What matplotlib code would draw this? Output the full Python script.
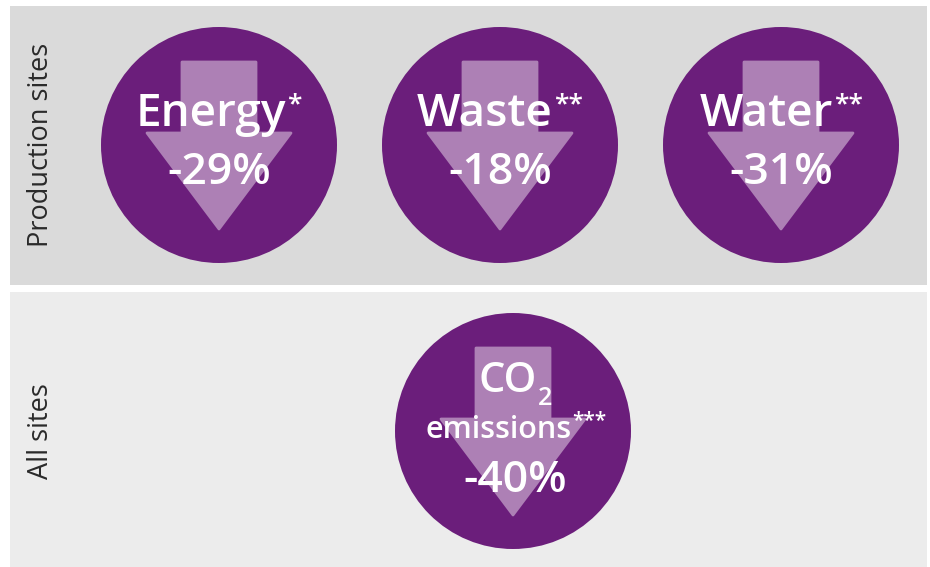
import matplotlib
matplotlib.use("Agg")
import matplotlib.pyplot as plt
from matplotlib.patches import Rectangle, Circle, Polygon

plt.rcParams['font.family'] = ['Open Sans', 'DejaVu Sans']

# data
rows = ['Production sites', 'All sites']
names = ['Energy', 'Waste', 'Water']
stars = ['*', '**', '**']
changes = [-29, -18, -31]
co2_change = -40
co2_stars = '***'

purple = '#6b1e7b'
arrow_col = '#ad80b5'
W, H = 930, 567

fig = plt.figure(figsize=(W / 100, H / 100), dpi=100)
ax = fig.add_axes([0, 0, 1, 1])
ax.set_xlim(0, W)
ax.set_ylim(H, 0)
ax.axis('off')
fig.patch.set_facecolor('white')

ax.add_patch(Rectangle((10, 6), 917, 279, color='#dadada', lw=0))
ax.add_patch(Rectangle((10, 292), 917, 275, color='#ececec', lw=0))

ax.text(41, 145, rows[0], rotation=90, ha='center', va='center',
        fontsize=19.5, color='#2a2a2a')
ax.text(41, 431, rows[1], rotation=90, ha='center', va='center',
        fontsize=19.5, color='#2a2a2a')


def badge(cx, cy):
    ax.add_patch(Circle((cx, cy), 118, color=purple, lw=0))
    pts = [(cx - 37, cy - 83), (cx + 37, cy - 83), (cx + 37, cy - 12),
           (cx + 72, cy - 12), (cx, cy + 84), (cx - 72, cy - 12),
           (cx - 37, cy - 12)]
    ax.add_patch(Polygon(pts, closed=True, fc=arrow_col, ec=arrow_col,
                         lw=2, joinstyle='round'))


fig.canvas.draw()
r = fig.canvas.get_renderer()


def word_with_sup(cx, y, word, sup, size, sup_size, sup_dy, gap=1,
                  weight='semibold'):
    t1 = ax.text(0, y, word, ha='left', va='baseline', fontsize=size,
                 color='white', weight=weight)
    t2 = ax.text(0, y - sup_dy, sup, ha='left', va='baseline',
                 fontsize=sup_size, color='white', weight=weight)
    w1 = t1.get_window_extent(r).width
    w2 = t2.get_window_extent(r).width
    x0 = cx - (w1 + w2 + gap) / 2
    t1.set_x(x0)
    t2.set_x(x0 + w1 + gap)


centers = [219, 500, 781]
for cx, name, st, ch in zip(centers, names, stars, changes):
    badge(cx, 145)
    word_with_sup(cx, 126, name, st, 33, 19, 15)
    ax.text(cx, 184, f'{ch}%', ha='center', va='baseline', fontsize=32,
            color='white', weight='semibold')

badge(513, 431)
# CO2 with subscript
word_with_sup(515, 392, 'CO', '2', 30, 18, -13)
word_with_sup(516, 438, 'emissions', co2_stars, 22, 15, 11)
ax.text(515, 492, f'{co2_change}%', ha='center', va='baseline', fontsize=32,
        color='white', weight='semibold')

fig.savefig('out.png', dpi=100)
